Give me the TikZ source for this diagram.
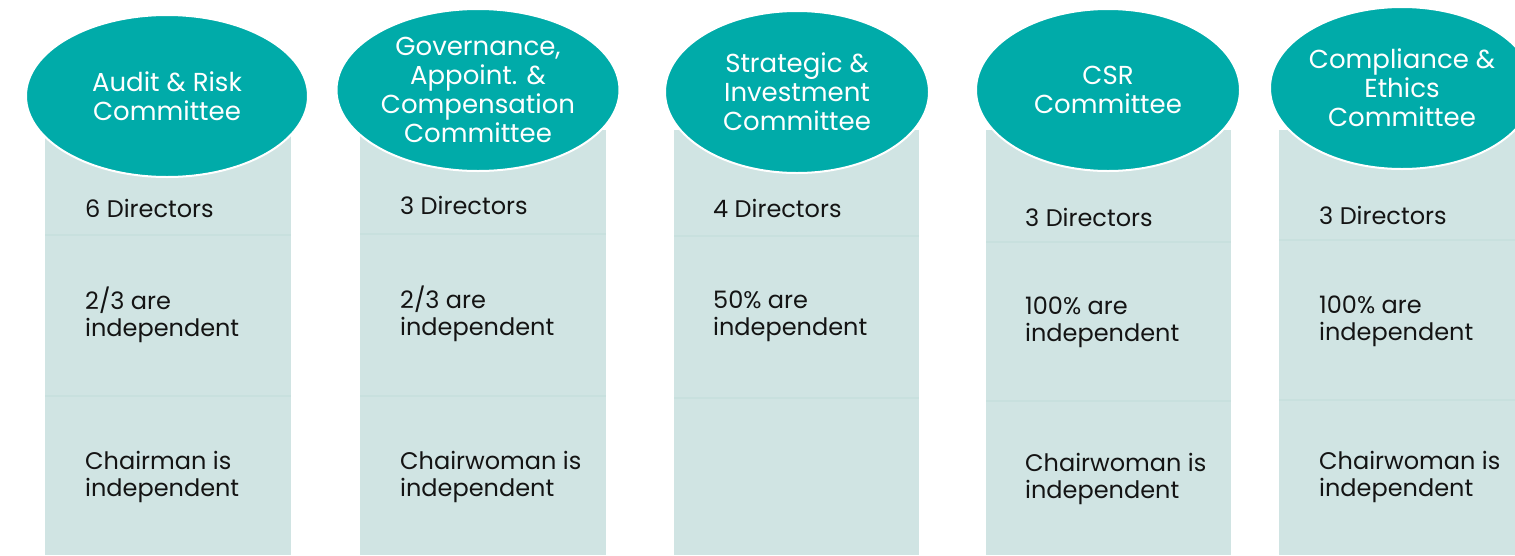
\documentclass[tikz,border=0pt]{standalone}
\usepackage{fontspec}
\setmainfont{Poppins}
\usetikzlibrary{shapes.geometric}

\definecolor{teal}{RGB}{0,171,169}
\definecolor{panel}{RGB}{208,228,227}
\definecolor{rule}{RGB}{200,224,222}
\definecolor{ink}{RGB}{20,20,20}

\begin{document}
\begin{tikzpicture}[x=1pt,y=-1pt,
    head/.style={ellipse, fill=teal, draw=white, line width=2pt, inner sep=0pt,
      text=white, align=center, font=\fontsize{26}{29}\selectfont},
    fact/.style={anchor=west, inner sep=0pt, text=ink, align=left,
      font=\fontsize{24}{27}\selectfont},
    band/.style={fill=panel, draw=none},
    sep/.style={rule, line width=2.5pt}]

    % Page area
    \useasboundingbox (0,0) rectangle (1515,555);

    % Column panels
    \fill[band] (45,130) rectangle (291,555);
    \fill[band] (360,130) rectangle (606,555);
    \fill[band] (674,130) rectangle (919,555);
    \fill[band] (986,130) rectangle (1231,555);
    \fill[band] (1279,130) rectangle (1524,555);

    % Row separators
    \draw[sep] (45,235) -- (291,235);
    \draw[sep] (45,396) -- (291,396);
    \draw[sep] (360,234) -- (606,234);
    \draw[sep] (360,396) -- (606,396);
    \draw[sep] (674,236) -- (919,236);
    \draw[sep] (674,398) -- (919,398);
    \draw[sep] (986,242) -- (1231,242);
    \draw[sep] (986,401) -- (1231,401);
    \draw[sep] (1279,240) -- (1524,240);
    \draw[sep] (1279,400) -- (1524,400);

    % Committee heads
    \node[head, minimum width=282pt, minimum height=162pt] (audit) at (167,96)
      {Audit \& Risk\\Committee};
    \node[head, minimum width=283pt, minimum height=162pt] (gov) at (478,90)
      {Governance,\\Appoint. \&\\Compensation\\Committee};
    \node[head, minimum width=264pt, minimum height=162pt] (strat) at (797,92)
      {Strategic \&\\Investment\\Committee};
    \node[head, minimum width=264pt, minimum height=162pt] (csr) at (1108,90)
      {CSR\\Committee};
    \node[head, minimum width=264pt, minimum height=162pt] (ethics) at (1402,88)
      {Compliance \&\\Ethics\\Committee};

    % Audit & Risk
    \node[fact] (audit-n) at (85,208) {6 Directors};
    \node[fact] (audit-i) at (85,315) {2/3 are\\independent};
    \node[fact] (audit-c) at (85,477) {Chairman is\\independent};

    % Governance
    \node[fact] (gov-n) at (400,205) {3 Directors};
    \node[fact] (gov-i) at (400,314) {2/3 are\\independent};
    \node[fact] (gov-c) at (400,477) {Chairwoman is\\independent};

    % Strategic
    \node[fact] (strat-n) at (713,208) {4 Directors};
    \node[fact] (strat-i) at (713,316) {50\% are\\independent};

    % CSR
    \node[fact] (csr-n) at (1025,217) {3 Directors};
    \node[fact] (csr-i) at (1025,322) {100\% are\\independent};
    \node[fact] (csr-c) at (1025,479) {Chairwoman is\\independent};

    % Compliance & Ethics
    \node[fact] (ethics-n) at (1319,215) {3 Directors};
    \node[fact] (ethics-i) at (1319,321) {100\% are\\independent};
    \node[fact] (ethics-c) at (1319,477) {Chairwoman is\\independent};
\end{tikzpicture}
\end{document}
